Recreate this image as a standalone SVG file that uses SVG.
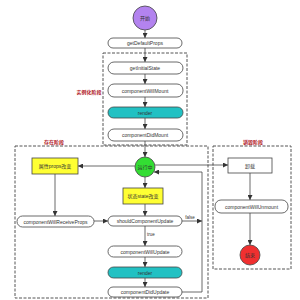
<svg xmlns="http://www.w3.org/2000/svg" width="300" height="300" viewBox="0 0 300 300">
<style>
text{font-family:"Liberation Sans","Noto Sans CJK SC",sans-serif;font-size:5px;fill:#333;stroke:none;text-anchor:middle;dominant-baseline:central}
.r{fill:#fff;stroke:#444;stroke-width:0.8}
.teal{fill:#22c1c3;stroke:#444;stroke-width:0.8}
.yel{fill:#ffff33;stroke:#444;stroke-width:0.8}
.box{fill:#fff;stroke:#444;stroke-width:0.8}
.dash{fill:none;stroke:#555;stroke-width:1;stroke-dasharray:3 1.5}
.lbl{fill:#b0141c;font-weight:bold;font-size:5px}
.c{fill:none;stroke:#444;stroke-width:0.8}
</style>
<defs>
<marker id="a" viewBox="0 0 10 10" refX="10" refY="5" markerWidth="5" markerHeight="5" orient="auto" markerUnits="userSpaceOnUse">
<path d="M0,0L10,5L0,10z" fill="#333" stroke="none"/>
</marker>
</defs>
<rect width="300" height="300" fill="#fff"/>
<g id="stages">
<rect class="dash" x="103" y="53" width="84" height="92"/>
<text class="lbl" x="89" y="92">实例化阶段</text>
<rect class="dash" x="15" y="146" width="193" height="152"/>
<text class="lbl" x="54" y="142">存在阶段</text>
<rect class="dash" x="213" y="146" width="78" height="123"/>
<text class="lbl" x="253" y="142">销毁阶段</text>
</g>
<g id="connectors" class="c">
<line x1="145" y1="30" x2="145" y2="38" marker-end="url(#a)"/>
<line x1="145" y1="48" x2="145" y2="62" marker-end="url(#a)"/>
<line x1="145" y1="74" x2="145" y2="84" marker-end="url(#a)"/>
<line x1="145" y1="97" x2="145" y2="107" marker-end="url(#a)"/>
<line x1="145" y1="118" x2="145" y2="129" marker-end="url(#a)"/>
<line x1="145" y1="141" x2="145" y2="157" marker-end="url(#a)"/>
<line x1="135" y1="166" x2="78" y2="166" marker-end="url(#a)"/>
<line x1="55" y1="174" x2="55" y2="216" marker-end="url(#a)"/>
<line x1="94" y1="221" x2="108" y2="221" marker-end="url(#a)"/>
<line x1="145" y1="177" x2="145" y2="188" marker-end="url(#a)"/>
<line x1="145" y1="204" x2="145" y2="216" marker-end="url(#a)"/>
<line x1="145" y1="226" x2="145" y2="246" marker-end="url(#a)"/>
<line x1="145" y1="257" x2="145" y2="267" marker-end="url(#a)"/>
<line x1="145" y1="278" x2="145" y2="287" marker-end="url(#a)"/>
<line x1="182" y1="221" x2="202" y2="221" marker-end="url(#a)"/>
<polyline points="182,292 202,292 202,172 154,172" marker-end="url(#a)"/>
<line x1="155" y1="165" x2="228" y2="165" marker-end="url(#a)"/>
<line x1="250" y1="173" x2="250" y2="200" marker-end="url(#a)"/>
<line x1="250" y1="213" x2="250" y2="245" marker-end="url(#a)"/>
<text x="190" y="217" style="font-size:4.5px">false</text>
<text x="151" y="234" style="font-size:4.5px">true</text>
</g>
<g id="start"><circle cx="145" cy="18" r="12" fill="#b383ef" stroke="#444" stroke-width="0.8"/><text x="145" y="18">开始</text></g>
<g id="getDefaultProps"><rect class="r" x="108" y="38" width="74" height="10" rx="5"/><text x="145" y="43">getDefaultProps</text></g>
<g id="getInitialState"><rect class="r" x="108" y="62" width="75" height="12" rx="6"/><text x="145" y="68">getInitialState</text></g>
<g id="componentWillMount"><rect class="r" x="108" y="84" width="75" height="13" rx="6"/><text x="145" y="90.5">componentWillMount</text></g>
<g id="render1"><rect class="teal" x="108" y="107" width="75" height="11" rx="5.5"/><text x="145" y="112.5">render</text></g>
<g id="componentDidMount"><rect class="r" x="108" y="129" width="75" height="12" rx="6"/><text x="145" y="135">componentDidMount</text></g>
<g id="running"><circle cx="145" cy="167" r="10" fill="#33dd33" stroke="#444" stroke-width="0.8"/><text x="145" y="167">运行中</text></g>
<g id="propsChange"><rect class="yel" x="32" y="158" width="46" height="16"/><text x="55" y="166">属性props改变</text></g>
<g id="stateChange"><rect class="yel" x="123" y="188" width="40" height="16"/><text x="143" y="196">状态state改变</text></g>
<g id="componentWillReceiveProps"><rect class="r" x="17" y="216" width="77" height="11" rx="5.5"/><text x="55.5" y="221.5">componentWillReceiveProps</text></g>
<g id="shouldComponentUpdate"><rect class="r" x="108" y="216" width="74" height="10" rx="5"/><text x="145" y="221">shouldComponentUpdate</text></g>
<g id="componentWillUpdate"><rect class="r" x="108" y="246" width="74" height="11" rx="5.5"/><text x="145" y="251.5">componentWillUpdate</text></g>
<g id="render2"><rect class="teal" x="108" y="267" width="74" height="11" rx="5.5"/><text x="145" y="272.5">render</text></g>
<g id="componentDidUpdate"><rect class="r" x="108" y="287" width="74" height="10" rx="5"/><text x="145" y="292">componentDidUpdate</text></g>
<g id="unload"><rect class="box" x="228" y="158" width="44" height="15"/><text x="250" y="165.5">卸载</text></g>
<g id="componentWillUnmount"><rect class="r" x="215" y="200" width="73" height="13" rx="6"/><text x="251.5" y="206.5">componentWillUnmount</text></g>
<g id="end"><circle cx="250" cy="255" r="10" fill="#f03030" stroke="#444" stroke-width="0.8"/><text x="250" y="255">结束</text></g>
</svg>
